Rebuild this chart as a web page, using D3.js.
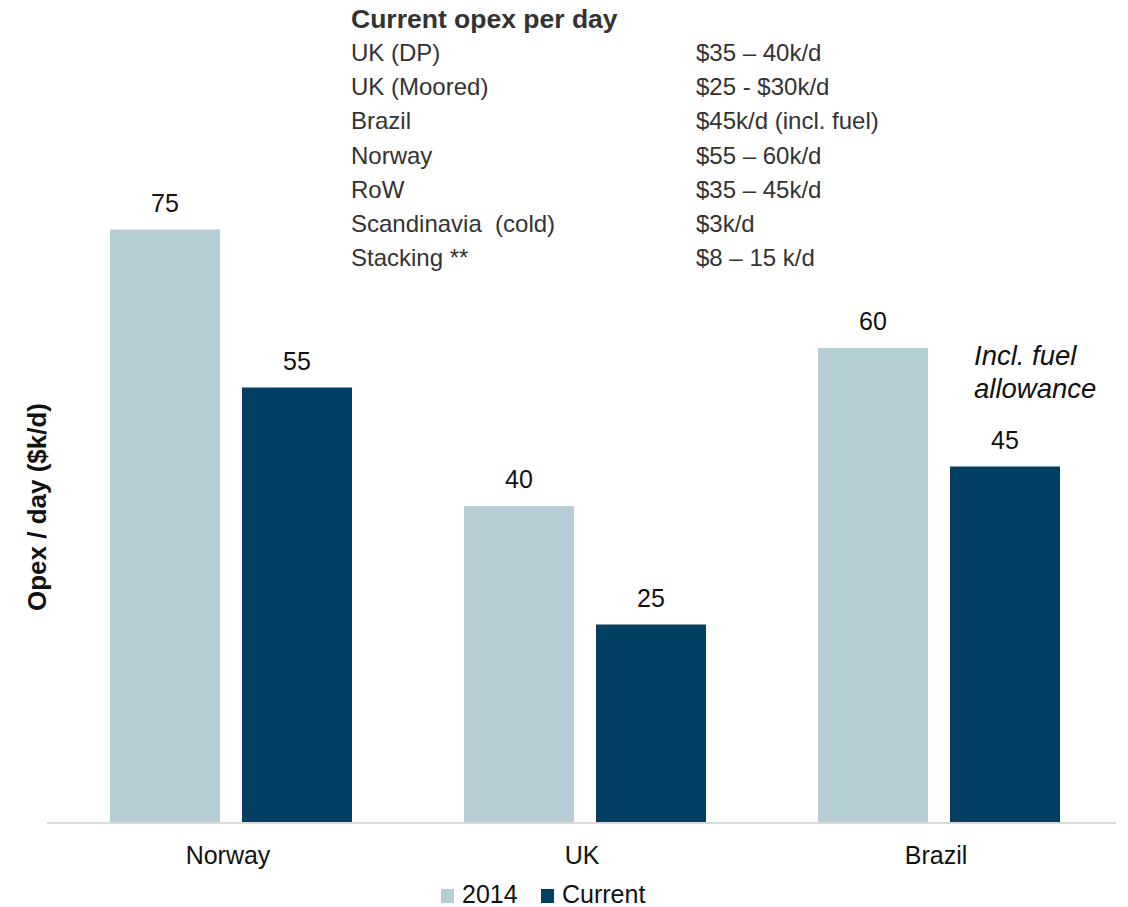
<!DOCTYPE html>
<html>
<head>
<meta charset="utf-8">
<script src="https://cdn.jsdelivr.net/npm/d3@7"></script>
<style>
  body { margin: 0; background: #fff; }
  text { font-family: "Liberation Sans", Arial, sans-serif; }
</style>
</head>
<body>
<div id="chart"></div>
<script>
// chart data
const categories = ["Norway", "UK", "Brazil"];
const series = ["2014", "Current"];
const values2014 = [75, 40, 60];
const valuesCurrent = [55, 25, 45];
const colors = ["#b5cdd4", "#023f63"];

const tableTitle = "Current opex per day";
const tableRegions = ["UK (DP)", "UK (Moored)", "Brazil", "Norway", "RoW", "Scandinavia  (cold)", "Stacking **"];
const tableCosts = ["$35 \u2013 40k/d", "$25 - $30k/d", "$45k/d (incl. fuel)", "$55 \u2013 60k/d", "$35 \u2013 45k/d", "$3k/d", "$8 \u2013 15 k/d"];

const width = 1128, height = 907;
const svg = d3.select("#chart").append("svg")
    .attr("width", width)
    .attr("height", height);

const baseY = 822;

// scales
const x0 = d3.scaleBand()
    .domain(categories)
    .range([54, 1116]);

const x1 = d3.scaleBand()
    .domain(series)
    .range([56, 298])
    .paddingInner(22 / 132);

const y = d3.scaleLinear()
    .domain([0, 100])
    .range([baseY, baseY - 790]);

const rows = categories.map((c, i) => ({
  cat: c,
  vals: [
    { key: series[0], v: values2014[i], color: colors[0] },
    { key: series[1], v: valuesCurrent[i], color: colors[1] }
  ]
}));

const groups = svg.selectAll("g.grp")
    .data(rows)
    .join("g")
    .attr("class", "grp")
    .attr("transform", d => `translate(${x0(d.cat)},0)`);

groups.selectAll("rect")
    .data(d => d.vals)
    .join("rect")
    .attr("x", d => x1(d.key))
    .attr("width", x1.bandwidth())
    .attr("y", d => y(d.v))
    .attr("height", d => baseY - y(d.v))
    .attr("fill", d => d.color);

groups.selectAll("text.val")
    .data(d => d.vals)
    .join("text")
    .attr("class", "val")
    .attr("x", d => x1(d.key) + x1.bandwidth() / 2)
    .attr("y", d => y(d.v) - 18)
    .attr("text-anchor", "middle")
    .style("font-size", "25px")
    .style("fill", "#111")
    .text(d => d.v);

// baseline
svg.append("line")
    .attr("x1", 47).attr("x2", 1116)
    .attr("y1", baseY + 1).attr("y2", baseY + 1)
    .attr("stroke", "#d9d9d9")
    .attr("stroke-width", 2);

// category labels
svg.selectAll("text.cat")
    .data(categories)
    .join("text")
    .attr("class", "cat")
    .attr("x", d => x0(d) + x0.bandwidth() / 2 - 3)
    .attr("y", 864)
    .attr("text-anchor", "middle")
    .style("font-size", "25px")
    .style("fill", "#111")
    .text(d => d);

// y axis title
svg.append("text")
    .attr("transform", "translate(46,507) rotate(-90)")
    .attr("text-anchor", "middle")
    .style("font-size", "26px")
    .style("font-weight", "bold")
    .style("fill", "#111")
    .text("Opex / day ($k/d)");

// annotation
const note = svg.append("text")
    .style("font-size", "27.5px")
    .style("font-style", "italic")
    .style("fill", "#111");
note.append("tspan").attr("x", 974).attr("y", 365).text("Incl. fuel");
note.append("tspan").attr("x", 974).attr("y", 398).text("allowance");

// opex table
svg.append("text")
    .attr("x", 351).attr("y", 28)
    .style("font-size", "26.5px")
    .style("font-weight", "bold")
    .style("fill", "#333")
    .text(tableTitle);

svg.selectAll("text.reg")
    .data(tableRegions)
    .join("text")
    .attr("class", "reg")
    .attr("x", 351)
    .attr("y", (d, i) => 61 + i * 34.2)
    .style("font-size", "24px")
    .style("white-space", "pre")
    .style("fill", "#333")
    .text(d => d);

svg.selectAll("text.cost")
    .data(tableCosts)
    .join("text")
    .attr("class", "cost")
    .attr("x", 696)
    .attr("y", (d, i) => 61 + i * 34.2)
    .style("font-size", "24px")
    .style("fill", "#333")
    .text(d => d);

// legend
const legend = svg.append("g");
const legendX = [441, 541];
series.forEach((s, i) => {
  legend.append("rect")
      .attr("x", legendX[i]).attr("y", 889)
      .attr("width", 13).attr("height", 14)
      .attr("fill", colors[i]);
  legend.append("text")
      .attr("x", legendX[i] + 21).attr("y", 903)
      .style("font-size", "25px")
      .style("fill", "#111")
      .text(s);
});
</script>
</body>
</html>
